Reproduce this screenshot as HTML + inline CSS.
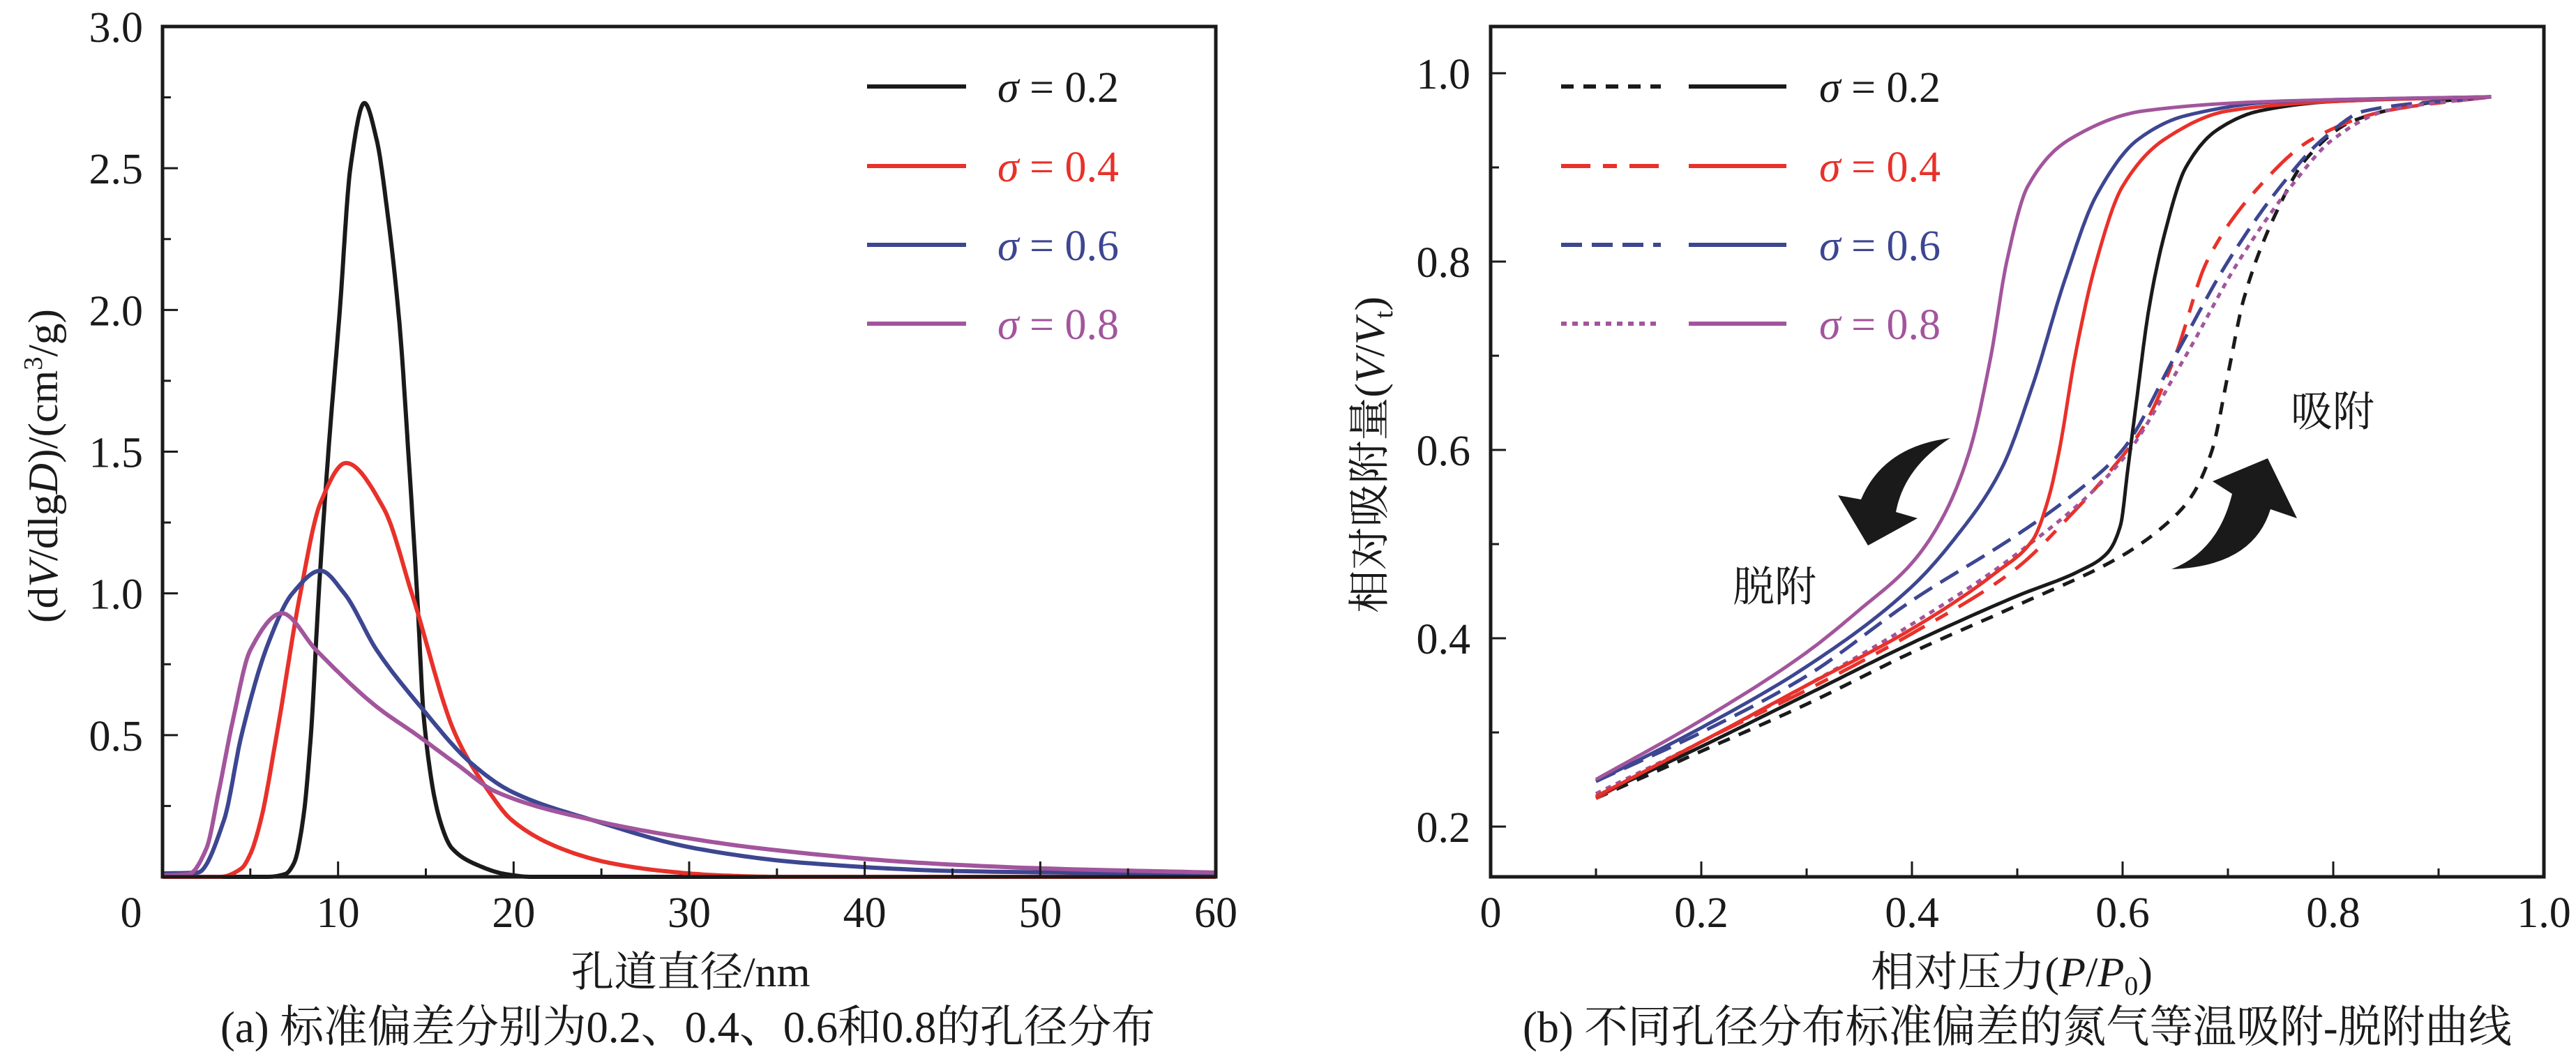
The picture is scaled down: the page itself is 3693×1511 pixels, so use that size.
<!DOCTYPE html>
<html><head><meta charset="utf-8"><style>
html,body{margin:0;padding:0;background:#fff;}
svg{display:block;}
text{font-family:"Liberation Serif","Times New Roman","Noto Serif CJK SC","Noto Sans CJK SC",serif;}
</style></head><body>
<svg id="fig" xmlns="http://www.w3.org/2000/svg" width="3693" height="1511" viewBox="0 0 3693 1511" font-family="'Liberation Serif','Noto Serif CJK SC',serif">
<g id="pa"></g>
<g id="pb"></g>
</svg>
<script>
// ---------- Chart (a) data ----------
const psdSeriesNames = ["σ = 0.2","σ = 0.4","σ = 0.6","σ = 0.8"];
const psdColors = ["#1a1a1a","#e8312a","#3d4691","#a2559c"];
const psdX02 = [0,6,7,7.5,8,8.45,8.9,9.45,10.1,10.7,11.5,12.2,12.8,13.5,14,14.5,14.9,15.8,16.5,18,19.5,21,60];
const psdY02 = [0,0,0.01,0.05,0.2,0.5,1.0,1.5,2.0,2.5,2.73,2.6,2.35,1.95,1.5,1.0,0.55,0.2,0.1,0.04,0.01,0,0];
const psdX04 = [0,3.3,4.5,5,5.6,6.5,7.85,9.0,10.45,12.6,14.2,16.7,18.6,19.9,22.7,25.4,28.6,31.8,35,60];
const psdY04 = [0,0,0.03,0.08,0.2,0.5,1.0,1.32,1.46,1.3,1.0,0.5,0.3,0.2,0.1,0.05,0.02,0.005,0,0];
const psdX06 = [0,2.0,3.5,4.5,6.0,7.4,9.0,10.35,12.2,14.7,17.6,19.9,24.5,30.4,36.4,45.5,60];
const psdY06 = [0.012,0.015,0.2,0.5,0.82,1.0,1.08,1.0,0.8,0.6,0.4,0.3,0.2,0.1,0.05,0.02,0.01];
const psdX08 = [0,1.5,2.5,3.2,4.0,5.0,6.8,8.75,12.2,14.5,16.7,19.0,24.5,28.6,34.1,43,50,60];
const psdY08 = [0.005,0.01,0.1,0.3,0.55,0.8,0.93,0.8,0.6,0.5,0.4,0.3,0.2,0.15,0.1,0.05,0.03,0.015];
const psdXTicks = [0,10,20,30,40,50,60];
const psdYTicks = [0.5,1.0,1.5,2.0,2.5,3.0];
const psdYTickLabels = ["0.5","1.0","1.5","2.0","2.5","3.0"];

// ---------- Chart (b) data ----------
const isoNames = ["σ = 0.2","σ = 0.4","σ = 0.6","σ = 0.8"];
const desP02 = [0.1,0.2,0.3,0.4,0.5,0.56,0.585,0.598,0.605,0.613,0.625,0.64,0.66,0.69,0.73,0.8,0.95];
const desV02 = [0.232,0.285,0.34,0.395,0.445,0.472,0.49,0.52,0.58,0.65,0.75,0.83,0.9,0.94,0.96,0.97,0.975];
const desP04 = [0.1,0.2,0.3,0.4,0.48,0.515,0.53,0.54,0.555,0.575,0.6,0.64,0.7,0.8,0.95];
const desV04 = [0.232,0.29,0.35,0.41,0.47,0.505,0.55,0.6,0.7,0.8,0.88,0.93,0.96,0.97,0.975];
const desP06 = [0.1,0.2,0.3,0.4,0.44,0.485,0.515,0.545,0.575,0.615,0.66,0.75,0.95];
const desV06 = [0.248,0.305,0.37,0.455,0.505,0.58,0.67,0.78,0.87,0.93,0.955,0.97,0.975];
const desP08 = [0.1,0.2,0.3,0.35,0.4,0.43,0.455,0.475,0.49,0.51,0.55,0.62,0.74,0.95];
const desV08 = [0.25,0.313,0.385,0.43,0.48,0.53,0.6,0.7,0.8,0.88,0.93,0.96,0.97,0.975];
const adsP02 = [0.1,0.2,0.3,0.4,0.5,0.6,0.64,0.665,0.685,0.7,0.715,0.745,0.775,0.82,0.9,0.95];
const adsV02 = [0.23,0.28,0.33,0.385,0.435,0.488,0.52,0.55,0.6,0.68,0.76,0.85,0.91,0.95,0.97,0.975];
const adsP04 = [0.1,0.2,0.3,0.4,0.5,0.55,0.59,0.62,0.65,0.68,0.73,0.78,0.85,0.95];
const adsV04 = [0.23,0.29,0.345,0.405,0.475,0.53,0.58,0.625,0.7,0.8,0.88,0.93,0.96,0.975];
const adsP06 = [0.1,0.2,0.3,0.4,0.5,0.55,0.6,0.65,0.7,0.75,0.79,0.83,0.95];
const adsV06 = [0.248,0.3,0.36,0.44,0.51,0.55,0.6,0.7,0.8,0.88,0.93,0.96,0.975];
const adsP08 = [0.1,0.2,0.3,0.4,0.5,0.6,0.66,0.71,0.76,0.8,0.85,0.95];
const adsV08 = [0.235,0.29,0.35,0.415,0.49,0.59,0.7,0.8,0.88,0.93,0.96,0.975];
const isoXTicks = [0,0.2,0.4,0.6,0.8,1.0];
const isoXTickLabels = ["0","0.2","0.4","0.6","0.8","1.0"];
const isoYTicks = [0.2,0.4,0.6,0.8,1.0];
const isoYTickLabels = ["0.2","0.4","0.6","0.8","1.0"];

const NS = "http://www.w3.org/2000/svg";
const FONT = "'Liberation Serif','Times New Roman','Noto Serif CJK SC',serif";
function mk(parent, tag, attrs, txt){
  const e = document.createElementNS(NS, tag);
  for (const k in attrs) e.setAttribute(k, attrs[k]);
  if (tag === 'text') e.setAttribute('font-family', FONT);
  if (txt !== undefined) e.textContent = txt;
  parent.appendChild(e);
  return e;
}
function monoPath(xs, ys, sx, sy){
  const n = xs.length, d = [], m = new Array(n);
  for (let i = 0; i < n-1; i++) d.push((ys[i+1]-ys[i])/(xs[i+1]-xs[i]));
  m[0] = d[0]; m[n-1] = d[n-2];
  for (let i = 1; i < n-1; i++){
    if (d[i-1]*d[i] <= 0) m[i] = 0;
    else { const w1 = 2*(xs[i+1]-xs[i]) + (xs[i]-xs[i-1]), w2 = (xs[i+1]-xs[i]) + 2*(xs[i]-xs[i-1]);
      m[i] = (w1+w2)/(w1/d[i-1] + w2/d[i]); }
  }
  let out = "";
  for (let i = 0; i < n-1; i++){
    const h = xs[i+1]-xs[i], steps = 16;
    for (let k = (i === 0 ? 0 : 1); k <= steps; k++){
      const t = k/steps, t2 = t*t, t3 = t2*t;
      const y = (2*t3-3*t2+1)*ys[i] + (t3-2*t2+t)*h*m[i] + (-2*t3+3*t2)*ys[i+1] + (t3-t2)*h*m[i+1];
      const x = xs[i] + t*h;
      out += (out ? "L" : "M") + sx(x).toFixed(1) + "," + sy(y).toFixed(1);
    }
  }
  return out;
}

// ================= Chart (a) =================
const A = {l:233, r:1743, t:38, b:1257, xmin:0, xmax:60, ymin:0, ymax:3};
const ax = v => A.l + (v - A.xmin) / (A.xmax - A.xmin) * (A.r - A.l);
const ay = v => A.b - (v - A.ymin) / (A.ymax - A.ymin) * (A.b - A.t);
const ga = document.getElementById('pa');

const clipA = mk(ga, 'clipPath', {id:'clipA'});
mk(clipA, 'rect', {x:A.l, y:A.t, width:A.r-A.l, height:A.b-A.t+3});

const psdXs = [psdX02, psdX04, psdX06, psdX08];
const psdYs = [psdY02, psdY04, psdY06, psdY08];
const curvesA = mk(ga, 'g', {'clip-path':'url(#clipA)'});


for (let s = 0; s < 4; s++){
  const p = mk(curvesA, 'path', {d:monoPath(psdXs[s], psdYs[s], ax, ay), fill:'none', stroke:psdColors[s], 'stroke-width':6, 'stroke-linejoin':'round'});
  
  
}
const frameA = mk(ga, 'rect', {x:A.l, y:A.t, width:A.r-A.l, height:A.b-A.t, fill:'none', stroke:'#1a1a1a', 'stroke-width':5});


for (let v = 5; v < 60; v += 5){
  const major = v % 10 === 0;
  const tk = mk(ga, 'line', {x1:ax(v), x2:ax(v), y1:A.b, y2:A.b-(major?22:12), stroke:'#1a1a1a', 'stroke-width':3});
  
  
}
psdXTicks.forEach(v => {
  const lx = v === 0 ? 188 : ax(v);
  const t = mk(ga, 'text', {x:lx, y:1329, 'font-size':62, 'text-anchor':'middle', fill:'#1a1a1a'}, String(v));
  
  
});
for (let v = 0.25; v < 3; v += 0.25){
  const major = Math.abs(v*2 - Math.round(v*2)) < 1e-6;
  const tk = mk(ga, 'line', {x1:A.l, x2:A.l+(major?22:12), y1:ay(v), y2:ay(v), stroke:'#1a1a1a', 'stroke-width':3});
  
  
}
psdYTicks.forEach((v, i) => {
  const t = mk(ga, 'text', {x:205, y:ay(v)+22, 'font-size':62, 'text-anchor':'end', fill:'#1a1a1a'}, psdYTickLabels[i]);
  
  
});
const legRows = [124, 238, 351, 464];
for (let s = 0; s < 4; s++){
  const g = mk(ga, 'g', {});
  
  
  mk(g, 'line', {x1:1243, x2:1385, y1:legRows[s], y2:legRows[s], stroke:psdColors[s], 'stroke-width':6});
  const t = mk(g, 'text', {x:1430, y:legRows[s]+22, 'font-size':62, fill:psdColors[s]});
  mk(t, 'tspan', {'font-style':'italic'}, 'σ');
  mk(t, 'tspan', {}, ' = ' + psdSeriesNames[s].slice(-3));
}
const xtA = mk(ga, 'text', {x:990, y:1414, 'font-size':60, 'text-anchor':'middle', fill:'#1a1a1a', textLength:343, lengthAdjust:'spacingAndGlyphs'}, '孔道直径/nm');


const capA = mk(ga, 'text', {x:986, y:1494, 'font-size':64, 'text-anchor':'middle', fill:'#1a1a1a', textLength:1340, lengthAdjust:'spacingAndGlyphs'}, '(a) 标准偏差分别为0.2、0.4、0.6和0.8的孔径分布');


const ytA = mk(ga, 'text', {x:0, y:0, 'font-size':60, 'text-anchor':'middle', fill:'#1a1a1a', transform:'translate(82,668) rotate(-90)', textLength:450, lengthAdjust:'spacingAndGlyphs'});


mk(ytA, 'tspan', {}, '(d');
mk(ytA, 'tspan', {'font-style':'italic'}, 'V');
mk(ytA, 'tspan', {}, '/dlg');
mk(ytA, 'tspan', {'font-style':'italic'}, 'D');
mk(ytA, 'tspan', {}, ')/(cm');
mk(ytA, 'tspan', {'font-size':38, dy:-22}, '3');
mk(ytA, 'tspan', {dy:22}, '/g)');

// ================= Chart (b) =================
const B = {l:2137, r:3647, t:38, b:1257};
const bx = v => B.l + v * (B.r - B.l);
const by = v => 1185 - (v - 0.2) / 0.8 * (1185 - 105);
const gb = document.getElementById('pb');
const desPs = [desP02, desP04, desP06, desP08], desVs = [desV02, desV04, desV06, desV08];
const adsPs = [adsP02, adsP04, adsP06, adsP08], adsVs = [adsV02, adsV04, adsV06, adsV08];
const dashes = ['18,14', '42,18,20,18', '30,14', '8,8'];
const curvesB = mk(gb, 'g', {});


for (let s = 0; s < 4; s++){
  const p1 = mk(curvesB, 'path', {d:monoPath(adsPs[s], adsVs[s], bx, by), fill:'none', stroke:psdColors[s], 'stroke-width':5, 'stroke-dasharray':dashes[s]});
  
  
}
for (let s = 0; s < 4; s++){
  const p2 = mk(curvesB, 'path', {d:monoPath(desPs[s], desVs[s], bx, by), fill:'none', stroke:psdColors[s], 'stroke-width':5});
  
  
}
const frameB = mk(gb, 'rect', {x:B.l, y:B.t, width:B.r-B.l, height:B.b-B.t, fill:'none', stroke:'#1a1a1a', 'stroke-width':5});


for (let k = 1; k < 10; k++){
  const v = k / 10, major = k % 2 === 0;
  const tk = mk(gb, 'line', {x1:bx(v), x2:bx(v), y1:B.b, y2:B.b-(major?22:12), stroke:'#1a1a1a', 'stroke-width':3});
  
  
}
for (let k = 2; k <= 10; k++){
  const v = k / 10, major = k % 2 === 0;
  const tk = mk(gb, 'line', {x1:B.l, x2:B.l+(major?22:12), y1:by(v), y2:by(v), stroke:'#1a1a1a', 'stroke-width':3});
  
  
}
isoXTicks.forEach((v, i) => {
  const t = mk(gb, 'text', {x:bx(v), y:1329, 'font-size':62, 'text-anchor':'middle', fill:'#1a1a1a'}, isoXTickLabels[i]);
  
  
});
isoYTicks.forEach((v, i) => {
  const t = mk(gb, 'text', {x:2108, y:by(v)+22, 'font-size':62, 'text-anchor':'end', fill:'#1a1a1a'}, isoYTickLabels[i]);
  
  
});
for (let s = 0; s < 4; s++){
  const g = mk(gb, 'g', {});
  
  
  mk(g, 'line', {x1:2238, x2:2381, y1:legRows[s], y2:legRows[s], stroke:psdColors[s], 'stroke-width':6, 'stroke-dasharray':dashes[s]});
  mk(g, 'line', {x1:2421, x2:2561, y1:legRows[s], y2:legRows[s], stroke:psdColors[s], 'stroke-width':6});
  const t = mk(g, 'text', {x:2608, y:legRows[s]+22, 'font-size':62, fill:psdColors[s]});
  mk(t, 'tspan', {'font-style':'italic'}, 'σ');
  mk(t, 'tspan', {}, ' = ' + isoNames[s].slice(-3));
}
const arrL = mk(gb, 'path', {d:'M2796,628 Q2700,640 2668,716 L2635,710 L2678,782 L2749,743 L2718,734 Q2730,670 2796,628 Z', fill:'#1a1a1a'});


const arrR = mk(gb, 'path', {d:'M3113,816 Q3230,812 3255,730 L3293,743 L3251,657 L3172,690 L3200,708 Q3180,790 3113,816 Z', fill:'#1a1a1a'});


const lblD = mk(gb, 'text', {x:2484, y:862, 'font-size':60, fill:'#1a1a1a'}, '脱附');


const lblA = mk(gb, 'text', {x:3284, y:611, 'font-size':60, fill:'#1a1a1a'}, '吸附');


const xtB = mk(gb, 'text', {x:2884, y:1414, 'font-size':60, 'text-anchor':'middle', fill:'#1a1a1a', textLength:404, lengthAdjust:'spacingAndGlyphs'});


mk(xtB, 'tspan', {}, '相对压力(');
mk(xtB, 'tspan', {'font-style':'italic'}, 'P');
mk(xtB, 'tspan', {}, '/');
mk(xtB, 'tspan', {'font-style':'italic'}, 'P');
mk(xtB, 'tspan', {'font-size':38, dy:12}, '0');
mk(xtB, 'tspan', {dy:-12}, ')');
const capB = mk(gb, 'text', {x:2892, y:1494, 'font-size':64, 'text-anchor':'middle', fill:'#1a1a1a', textLength:1418, lengthAdjust:'spacingAndGlyphs'}, '(b) 不同孔径分布标准偏差的氮气等温吸附-脱附曲线');


const ytB = mk(gb, 'text', {x:0, y:0, 'font-size':60, 'text-anchor':'middle', fill:'#1a1a1a', transform:'translate(1984,652) rotate(-90)', textLength:454, lengthAdjust:'spacingAndGlyphs'});


mk(ytB, 'tspan', {}, '相对吸附量(');
mk(ytB, 'tspan', {'font-style':'italic'}, 'V');
mk(ytB, 'tspan', {}, '/');
mk(ytB, 'tspan', {'font-style':'italic'}, 'V');
mk(ytB, 'tspan', {'font-size':38, dy:12}, 't');
mk(ytB, 'tspan', {dy:-12}, ')');
</script>
</body></html>
